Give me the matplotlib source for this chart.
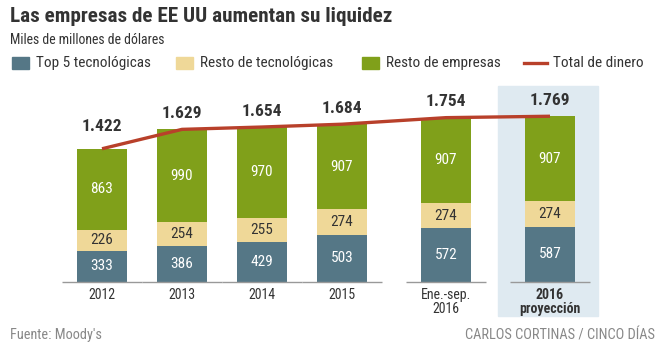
import matplotlib.pyplot as plt
from matplotlib import font_manager
from matplotlib.patches import Rectangle
from matplotlib.lines import Line2D

installed = {f.name for f in font_manager.fontManager.ttflist}
fam = 'DejaVu Sans'
for name in ['Roboto Condensed', 'Archivo Narrow', 'PT Sans Narrow',
             'Liberation Sans Narrow', 'Asap Condensed', 'Liberation Sans']:
    if name in installed:
        fam = name
        break
plt.rcParams['font.family'] = [fam, 'DejaVu Sans']

# data
periodos = ['2012', '2013', '2014', '2015', 'Ene.-sep.\n2016', '2016\nproyección']
top5 = [333, 386, 429, 503, 572, 587]
resto_tec = [226, 254, 255, 274, 274, 274]
resto_emp = [863, 990, 970, 907, 907, 907]
total = [1422, 1629, 1654, 1684, 1754, 1769]
total_txt = ['1.422', '1.629', '1.654', '1.684', '1.754', '1.769']

# layout
xpos = [0, 1, 2, 3, 4.3, 5.6]
c_blue = '#557786'
c_tan = '#efd898'
c_green = '#80a01a'
c_red = '#b8402a'
c_shade = '#dfeaf1'

W, H = 664, 350
fig = plt.figure(figsize=(W / 100, H / 100), dpi=100)
ax = fig.add_axes([0, 0, 1, 1])
ax.axis('off')

# pixel mapping: first bar centre at 102 px, 80 px per unit, baseline at 282 px
k = 0.0937
ax.set_xlim((0 - 102) / 80, (W - 102) / 80)
ax.set_ylim((282 - H) / k, 282 / k)


def fx(px):
    return px / W


def fy(py):
    return 1 - py / H


# projection shading
fig.add_artist(Rectangle((fx(498), fy(316)), fx(100), 230 / H,
                         transform=fig.transFigure, color=c_shade, zorder=0))

bw = 0.625
ax.bar(xpos, top5, bw, color=c_blue, zorder=2)
bottom2 = list(top5)
ax.bar(xpos, resto_tec, bw, bottom=bottom2, color=c_tan, zorder=2)
bottom3 = [a + b for a, b in zip(top5, resto_tec)]
ax.bar(xpos, resto_emp, bw, bottom=bottom3, color=c_green, zorder=2)

ax.plot(xpos, total, color=c_red, lw=2.4, zorder=3, solid_capstyle='butt')

for i, x in enumerate(xpos):
    ax.hlines(0, x - 0.5, x + 0.5, color='#999999', lw=1, zorder=3)
    ax.text(x, top5[i] / 2, str(top5[i]), ha='center', va='center',
            color='white', fontsize=11, zorder=4)
    ax.text(x, bottom2[i] + resto_tec[i] / 2, str(resto_tec[i]), ha='center',
            va='center', color='#333333', fontsize=11, zorder=4)
    ax.text(x, bottom3[i] + resto_emp[i] / 2, str(resto_emp[i]), ha='center',
            va='center', color='white', fontsize=11, zorder=4)
    off = 22 if i == 0 else 16
    ax.annotate(total_txt[i], (x, total[i]), xytext=(0, off * 0.72),
                textcoords='offset points', ha='center', va='center',
                fontsize=12.5, fontweight='bold', color='#333333', zorder=4)
    bold = 'bold' if i == 5 else 'normal'
    ax.text(x, -60, periodos[i], ha='center', va='top', fontsize=10,
            color='#333333', fontweight=bold, linespacing=1.05, zorder=4)

# title block
fig.text(fx(10), fy(17), 'Las empresas de EE UU aumentan su liquidez',
         fontsize=15.2, fontweight='bold', color='#333333', va='center')
fig.text(fx(10), fy(40), 'Miles de millones de dólares',
         fontsize=9.9, color='#333333', va='center')

# legend
items = [(12, 36, c_blue, 'Top 5 tecnológicas'),
         (176, 200, c_tan, 'Resto de tecnológicas'),
         (362, 386, c_green, 'Resto de empresas')]
for sx, tx, c, lab in items:
    fig.add_artist(Rectangle((fx(sx), fy(69)), fx(17), 12 / H,
                             transform=fig.transFigure, color=c))
    fig.text(fx(tx), fy(63), lab, fontsize=11, color='#333333', va='center')
fig.add_artist(Line2D([fx(524), fx(547)], [fy(63), fy(63)],
                      transform=fig.transFigure, color=c_red, lw=2.4))
fig.text(fx(553), fy(63), 'Total de dinero', fontsize=11, color='#333333',
         va='center')

# footer
fig.text(fx(10), fy(335), "Fuente: Moody's", fontsize=10.3, color='#888888',
         va='center')
fig.text(fx(655), fy(335), 'CARLOS CORTINAS / CINCO DÍAS', fontsize=10.4,
         color='#888888', va='center', ha='right')

fig.savefig('out.png', dpi=100)
